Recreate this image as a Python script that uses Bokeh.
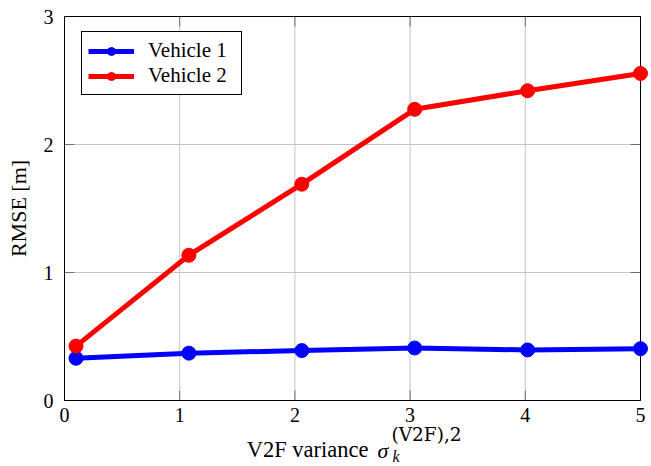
import math
from bokeh.plotting import figure
from bokeh.models import Legend, LegendItem, Label, Range1d
from bokeh.core.properties import value
from bokeh.embed import file_html
from bokeh.resources import INLINE

# data
x_vals = [0.1, 1.08, 2.06, 3.04, 4.02, 5.0]
vehicle1 = [0.33, 0.37, 0.39, 0.41, 0.395, 0.405]
vehicle2 = [0.425, 1.135, 1.69, 2.275, 2.42, 2.555]
series_names = ["Vehicle 1", "Vehicle 2"]
x_ticks = [0, 1, 2, 3, 4, 5]
y_ticks = [0, 1, 2, 3]
x_tick_labels = ["0", "1", "2", "3", "4", "5"]
y_tick_labels = ["0", "1", "2", "3"]
y_label = "RMSE [m]"
x_label_main = "V2F variance"
x_label_sym = "σ"
x_label_sup = "(V2F),2"
x_label_sub = "k"

FONT = "Liberation Serif"
TICK_COLOR = "#707070"
GRID_COLOR = "#c4c4c4"

# canvas / plotting-area geometry (pixels)
W, H = 648, 466
AX_LEFT, AX_TOP, AX_W, AX_H = 64, 16, 576, 384
xs = AX_W / (x_ticks[-1] - x_ticks[0])
ys = AX_H / (y_ticks[-1] - y_ticks[0])
x_range = Range1d(x_ticks[0] - AX_LEFT / xs, x_ticks[-1] + (W - AX_LEFT - AX_W) / xs)
y_range = Range1d(y_ticks[0] - (H - AX_TOP - AX_H) / ys, y_ticks[-1] + AX_TOP / ys)

p = figure(width=W, height=H, x_range=x_range, y_range=y_range,
           min_border=0, min_border_left=0, min_border_right=0, min_border_top=0, min_border_bottom=0,
           x_axis_location=None, y_axis_location=None,
           output_backend="svg", toolbar_location=None)
p.outline_line_color = None
p.background_fill_color = "white"
p.border_fill_color = "white"
p.grid.visible = False

x0, x1 = x_ticks[0], x_ticks[-1]
y0, y1 = y_ticks[0], y_ticks[-1]

# grid
p.segment(x0=x_ticks, y0=[y0] * len(x_ticks), x1=x_ticks, y1=[y1] * len(x_ticks),
          line_color=GRID_COLOR, line_width=1)
p.segment(x0=[x0] * len(y_ticks), y0=y_ticks, x1=[x1] * len(y_ticks), y1=y_ticks,
          line_color=GRID_COLOR, line_width=1)

# inner ticks on all four sides
p.ray(x=x_ticks, y=[y0] * len(x_ticks), length=10, length_units="screen", angle=math.pi / 2,
      line_color=TICK_COLOR, line_width=1)
p.ray(x=x_ticks, y=[y1] * len(x_ticks), length=10, length_units="screen", angle=-math.pi / 2,
      line_color=TICK_COLOR, line_width=1)
p.ray(x=[x0] * len(y_ticks), y=y_ticks, length=10, length_units="screen", angle=0,
      line_color=TICK_COLOR, line_width=1)
p.ray(x=[x1] * len(y_ticks), y=y_ticks, length=10, length_units="screen", angle=math.pi,
      line_color=TICK_COLOR, line_width=1)

# axis box
p.quad(left=[x0], right=[x1], bottom=[y0], top=[y1], fill_color=None,
       line_color="black", line_width=1)

# tick labels (vertically centred on their anchor)
p.text(x=x_ticks, y=[y0] * len(x_ticks), text=x_tick_labels, y_offset=14,
       text_align="center", text_baseline="middle",
       text_font=value(FONT), text_font_size="20px", text_color="black")
p.text(x=[x0] * len(y_ticks), y=y_ticks, text=y_tick_labels, x_offset=-11, y_offset=0,
       text_align="right", text_baseline="middle",
       text_font=value(FONT), text_font_size="20px", text_color="black")

# series
colors = ["#0000ff", "#ff0000"]
items = []
for name, yv, c in zip(series_names, [vehicle1, vehicle2], colors):
    ln = p.line(x_vals, yv, line_color=c, line_width=5)
    sc = p.scatter(x_vals, yv, marker="circle", size=14, fill_color=c, line_color=c)
    items.append(LegendItem(label=name, renderers=[ln, sc]))

legend = Legend(items=items, location=(81, H - 95))
legend.label_text_font = FONT
legend.label_text_font_size = "21px"
legend.label_text_color = "black"
legend.padding = 6
legend.spacing = 0
legend.glyph_height = 20
legend.glyph_width = 46
legend.label_height = 20
legend.label_width = 87
legend.label_standoff = 14
legend.margin = 0
legend.border_line_color = "black"
legend.border_line_width = 1
legend.border_line_alpha = 1
legend.background_fill_color = "white"
legend.background_fill_alpha = 1
p.add_layout(legend, "center")

# y-axis label
p.add_layout(Label(x=x0, y=(y0 + y1) / 2, x_offset=-46, text=y_label, angle=math.pi / 2,
                   text_align="center", text_baseline="middle",
                   text_font=FONT, text_font_size="22px", text_color="black"))

# x-axis label "V2F variance σ_k^(V2F),2"
def scr(text, x, y, size, font=FONT, style="normal", align="left"):
    return Label(x=x, y=y, x_units="screen", y_units="screen", text=text, text_align=align,
                 text_baseline="middle", text_font=font, text_font_style=style,
                 text_font_size=size, text_color="black")

p.add_layout(scr(x_label_main, 368, 16.6, "22.5px", align="right"))
p.add_layout(scr(x_label_sym, 377, 16.4, "22px", style="italic"))
p.add_layout(scr(x_label_sup, 391, 32, "18.5px", font="DejaVu Serif"))
p.add_layout(scr(x_label_sub, 392, 10.4, "16px", style="italic"))

open("out.html", "w").write(file_html(p, INLINE))
